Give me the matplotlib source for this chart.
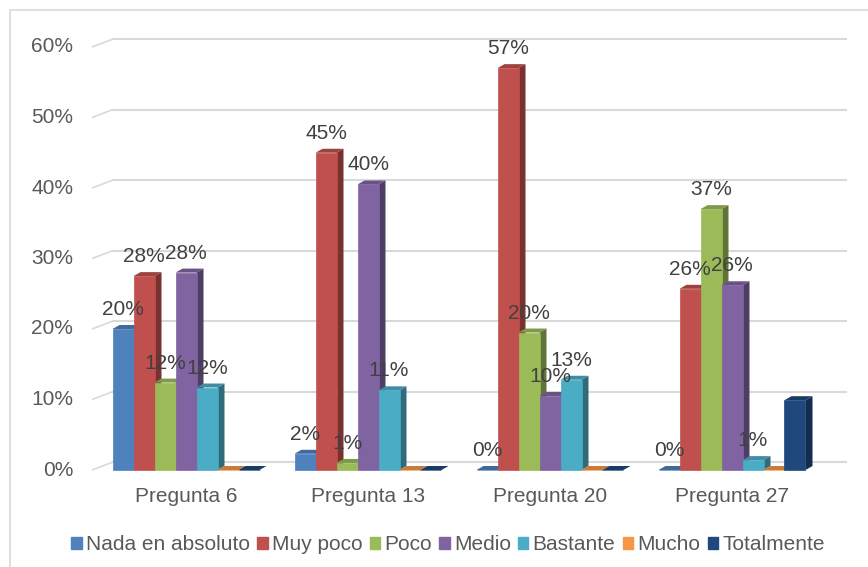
import numpy as np
import matplotlib.pyplot as plt
from matplotlib.patches import Polygon, Rectangle
import matplotlib.colors as mcolors

plt.rcParams['font.family'] = ['Liberation Sans', 'DejaVu Sans']

# data
categories = ['Pregunta 6', 'Pregunta 13', 'Pregunta 20', 'Pregunta 27']
series = ['Nada en absoluto', 'Muy poco', 'Poco', 'Medio', 'Bastante', 'Mucho', 'Totalmente']
nada = [20.0, 2.3, 0.0, 0.0]
muy_poco = [27.5, 45.0, 57.0, 25.7]
poco = [12.4, 1.0, 19.5, 37.0]
medio = [28.0, 40.5, 10.5, 26.2]
bastante = [11.7, 11.3, 12.8, 1.4]
mucho = [0.0, 0.0, 0.0, 0.0]
totalmente = [0.0, 0.0, 0.0, 9.9]
labels_nada = ['20%', '2%', '0%', '0%']
labels_muy = ['28%', '45%', '57%', '26%']
labels_poco = ['12%', '1%', '20%', '37%']
labels_medio = ['28%', '40%', '10%', '26%']
labels_bast = ['12%', '11%', '13%', '1%']

values = [nada, muy_poco, poco, medio, bastante, mucho, totalmente]
bar_labels = [labels_nada, labels_muy, labels_poco, labels_medio, labels_bast, None, None]
colors = ['#4F81BD', '#C0504D', '#9BBB59', '#8064A2', '#4BACC6', '#F79646', '#1F497D']

W, H = 868, 567
fig = plt.figure(figsize=(W/100, H/100), dpi=100)

# outer chart border
fig.patches.append(Rectangle((10/W, -0.1), 2, 1 - 10/H + 0.1, transform=fig.transFigure,
                             fill=False, edgecolor='#d9d9d9', lw=1.2))

ax = fig.add_axes([92/W, (H-490)/H, (850-92)/W, 470/H])
pxy = 7.05   # pixels per percent
pxx = 182.0  # pixels per category
ax.set_ylim(-20/pxy, 450/pxy)
ax.set_xlim((92-186)/pxx, (850-186)/pxx)
ax.axis('off')

x0 = (92-186)/pxx
gdx, gdy = 21/pxx, 8/pxy
for v in range(0, 61, 10):
    ax.plot([x0, x0+gdx], [v, v+gdy], color='#d9d9d9', lw=1.2, zorder=1)
    ax.plot([x0+gdx, (846-186)/pxx], [v+gdy, v+gdy], color='#d9d9d9', lw=1.5, zorder=1)
    ax.text(x0-19/pxx, v, f'{v}%', ha='right', va='center', fontsize=15, color='#595959')

bw = 21/pxx
bdx, bdy = 7/pxx, 4/pxy
xs = np.arange(len(categories))
for j, (vals, col) in enumerate(zip(values, colors)):
    rgb = np.array(mcolors.to_rgb(col))
    side = rgb*0.62
    top = rgb*0.82
    for i, v in enumerate(vals):
        left = xs[i] - 3.5*bw + j*bw
        z = 3 + j*0.01
        ax.add_patch(Polygon([(left+bw, 0), (left+bw+bdx, bdy), (left+bw+bdx, v+bdy), (left+bw, v)],
                             closed=True, facecolor=side, edgecolor='none', zorder=z))
        ax.add_patch(Polygon([(left, v), (left+bdx, v+bdy), (left+bw+bdx, v+bdy), (left+bw, v)],
                             closed=True, facecolor=top, edgecolor='none', zorder=z))
        ax.bar(left, v, width=bw, align='edge', color=col, edgecolor=col, lw=0.5, zorder=z+0.005)
        if bar_labels[j] is not None:
            ax.text(left+bw/2, v + 10/pxy, bar_labels[j][i], ha='center', va='bottom',
                    fontsize=15, color='#404040', zorder=10)

for i, c in enumerate(categories):
    ax.text(xs[i], -26/pxy, c, ha='center', va='center', fontsize=15, color='#595959', clip_on=False)

handles = [Rectangle((0, 0), 1, 1, color=c) for c in colors]
fig.legend(handles, series, loc='center', bbox_to_anchor=(448/W, 1-545/H), ncol=7, frameon=False,
           fontsize=15, handlelength=0.5, handleheight=0.5, handletextpad=0.2, columnspacing=0.35,
           labelcolor='#595959')

fig.savefig('out.png', dpi=100)
